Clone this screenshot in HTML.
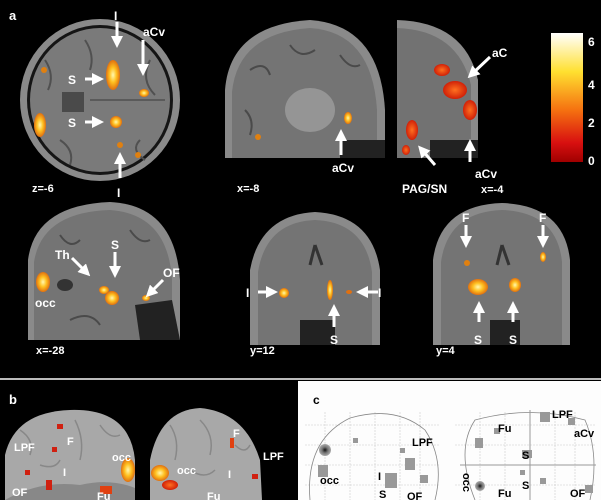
<!DOCTYPE html>
<html><head><meta charset="utf-8"><style>
html,body{margin:0;padding:0;background:#000;}
svg{display:block;}
text{font-family:"Liberation Sans",Arial,sans-serif;font-weight:bold;}
</style></head><body>
<svg width="601" height="500" viewBox="0 0 601 500" xmlns="http://www.w3.org/2000/svg">
<defs>
<linearGradient id="cb" x1="0" y1="0" x2="0" y2="1">
<stop offset="0" stop-color="#fff"/><stop offset="0.3" stop-color="#ffe030"/><stop offset="0.6" stop-color="#f57010"/><stop offset="0.85" stop-color="#d81010"/><stop offset="1" stop-color="#a00000"/>
</linearGradient>
<radialGradient id="hot"><stop offset="0" stop-color="#fff8b0"/><stop offset="0.5" stop-color="#ffc020"/><stop offset="1" stop-color="#e07010"/></radialGradient>
<radialGradient id="red"><stop offset="0" stop-color="#ff7020"/><stop offset="1" stop-color="#d02008"/></radialGradient>
<radialGradient id="gb"><stop offset="0" stop-color="#111"/><stop offset="0.5" stop-color="#777"/><stop offset="1" stop-color="#aaa"/></radialGradient>
<marker id="ah" markerWidth="4" markerHeight="4" refX="2" refY="2" orient="auto" markerUnits="strokeWidth"><path d="M0,0 L4,2 L0,4 z" fill="#fff"/></marker>
</defs>
<rect width="601" height="500" fill="#000"/>
<text x="9" y="20" fill="#fff" font-size="13">a</text>
<!-- axial -->
<ellipse cx="100" cy="100" rx="80" ry="81" fill="#8a8a8a"/>
<ellipse cx="100" cy="100" rx="73" ry="75" fill="#151515"/>
<ellipse cx="100" cy="100" rx="70" ry="72" fill="#7a7a7a"/>
<g stroke="#505050" stroke-width="2" fill="none">
<path d="M45,60 Q55,75 48,90"/><path d="M150,60 Q140,80 155,95"/><path d="M60,140 Q75,150 70,165"/><path d="M140,140 Q130,150 145,160"/>
<path d="M85,40 Q95,55 90,70"/><line x1="90" y1="100" x2="165" y2="100" stroke="#3a3a3a" stroke-width="1"/>
</g>
<rect x="62" y="92" width="22" height="20" fill="#4a4a4a"/>
<ellipse cx="113" cy="75" rx="7" ry="15" fill="url(#hot)"/>
<ellipse cx="116" cy="122" rx="6" ry="6" fill="url(#hot)"/>
<ellipse cx="144" cy="93" rx="5" ry="4" fill="url(#hot)"/>
<ellipse cx="40" cy="125" rx="6" ry="12" fill="url(#hot)"/>
<circle cx="44" cy="70" r="3" fill="#e08010"/><circle cx="120" cy="145" r="3" fill="#e08010"/><circle cx="138" cy="155" r="3" fill="#e08010"/>
<g stroke="#fff" stroke-width="3" marker-end="url(#ah)">
<line x1="117" y1="22" x2="117" y2="42"/><line x1="143" y1="40" x2="143" y2="70"/>
<line x1="85" y1="79" x2="98" y2="79"/><line x1="85" y1="122" x2="98" y2="122"/>
<line x1="120" y1="178" x2="120" y2="158"/>
</g>
<text x="114" y="20" fill="#fff" font-size="12">I</text>
<text x="143" y="36" fill="#fff" font-size="12">aCv</text>
<text x="68" y="84" fill="#fff" font-size="12">S</text>
<text x="68" y="127" fill="#fff" font-size="12">S</text>
<text x="117" y="197" fill="#fff" font-size="12">I</text>
<text x="32" y="192" fill="#fff" font-size="11">z=-6</text>
<!-- sagittal x=-8 -->
<path d="M225,158 L225,90 Q230,25 310,20 Q380,25 385,110 L385,158 Z" fill="#8a8a8a"/>
<path d="M232,158 L232,92 Q238,33 310,28 Q372,32 377,110 L377,158 Z" fill="#747474"/>
<g stroke="#4a4a4a" stroke-width="2" fill="none">
<path d="M250,70 Q265,60 270,75"/><path d="M290,45 Q300,60 315,50"/><path d="M340,55 Q350,70 360,65"/><path d="M245,110 Q255,120 250,135"/>
</g>
<ellipse cx="310" cy="110" rx="25" ry="22" fill="#959595"/>
<path d="M340,140 L385,140 L385,158 L340,158Z" fill="#222"/>
<ellipse cx="348" cy="118" rx="4" ry="6" fill="url(#hot)"/>
<circle cx="258" cy="137" r="3" fill="#e08010"/>
<line x1="341" y1="155" x2="341" y2="135" stroke="#fff" stroke-width="3" marker-end="url(#ah)"/>
<text x="332" y="172" fill="#fff" font-size="12">aCv</text>
<text x="237" y="192" fill="#fff" font-size="11">x=-8</text>
<!-- sagittal x=-4 -->
<path d="M397,158 L397,20 Q465,22 478,80 L478,158 Z" fill="#8a8a8a"/>
<path d="M397,158 L397,28 Q458,30 471,85 L471,158 Z" fill="#727272"/>
<path d="M430,140 L478,140 L478,158 L430,158Z" fill="#222"/>
<ellipse cx="455" cy="90" rx="12" ry="9" fill="url(#red)"/>
<ellipse cx="442" cy="70" rx="8" ry="6" fill="url(#red)"/>
<ellipse cx="470" cy="110" rx="7" ry="10" fill="url(#red)"/>
<ellipse cx="412" cy="130" rx="6" ry="10" fill="url(#red)"/>
<ellipse cx="406" cy="150" rx="4" ry="5" fill="url(#red)"/>
<g stroke="#fff" stroke-width="3" marker-end="url(#ah)">
<line x1="490" y1="57" x2="472" y2="74"/><line x1="435" y1="165" x2="422" y2="150"/><line x1="470" y1="162" x2="470" y2="145"/>
</g>
<text x="492" y="57" fill="#fff" font-size="12">aC</text>
<text x="475" y="178" fill="#fff" font-size="12">aCv</text>
<text x="402" y="193" fill="#fff" font-size="12">PAG/SN</text>
<text x="481" y="193" fill="#fff" font-size="11">x=-4</text>
<!-- colorbar -->
<rect x="551" y="33" width="32" height="129" fill="url(#cb)"/>
<text x="588" y="46" fill="#fff" font-size="12">6</text>
<text x="588" y="89" fill="#fff" font-size="12">4</text>
<text x="588" y="127" fill="#fff" font-size="12">2</text>
<text x="588" y="165" fill="#fff" font-size="12">0</text>
<!-- x=-28 -->
<path d="M28,340 L28,260 Q35,205 110,202 Q175,205 180,280 L180,340 Z" fill="#8a8a8a"/>
<path d="M34,340 L34,262 Q42,212 110,210 Q168,214 172,280 L172,340 Z" fill="#747474"/>
<g stroke="#4a4a4a" stroke-width="2" fill="none">
<path d="M60,235 Q70,250 80,240"/><path d="M130,230 Q140,245 150,240"/><path d="M70,320 Q90,310 100,325"/><ellipse cx="65" cy="285" rx="8" ry="6" fill="#333" stroke="none"/>
</g>
<path d="M135,305 L172,300 L180,340 L140,340Z" fill="#222"/>
<ellipse cx="43" cy="282" rx="7" ry="10" fill="url(#hot)"/>
<ellipse cx="112" cy="298" rx="7" ry="7" fill="url(#hot)"/>
<ellipse cx="104" cy="290" rx="5" ry="4" fill="url(#hot)"/>
<ellipse cx="146" cy="298" rx="4" ry="3" fill="url(#hot)"/>
<g stroke="#fff" stroke-width="3" marker-end="url(#ah)">
<line x1="72" y1="258" x2="86" y2="272"/><line x1="115" y1="252" x2="115" y2="272"/><line x1="163" y1="280" x2="150" y2="293"/>
</g>
<text x="55" y="259" fill="#fff" font-size="12">Th</text>
<text x="111" y="249" fill="#fff" font-size="12">S</text>
<text x="163" y="277" fill="#fff" font-size="12">OF</text>
<text x="35" y="307" fill="#fff" font-size="12">occ</text>
<text x="36" y="354" fill="#fff" font-size="11">x=-28</text>
<!-- y=12 -->
<path d="M250,345 L250,270 Q260,215 315,212 Q372,215 380,270 L380,345 Z" fill="#8a8a8a"/>
<path d="M258,345 L258,272 Q266,222 315,220 Q365,222 372,272 L372,345 Z" fill="#747474"/>
<path d="M315,245 L310,265 M315,245 L322,265" stroke="#333" stroke-width="3"/>
<rect x="300" y="320" width="35" height="25" fill="#222"/>
<ellipse cx="284" cy="293" rx="5" ry="5" fill="url(#hot)"/>
<ellipse cx="330" cy="290" rx="3" ry="10" fill="url(#hot)"/>
<ellipse cx="349" cy="292" rx="3" ry="2" fill="#e07010"/>
<g stroke="#fff" stroke-width="3" marker-end="url(#ah)">
<line x1="258" y1="292" x2="272" y2="292"/><line x1="378" y1="292" x2="362" y2="292"/><line x1="334" y1="327" x2="334" y2="310"/>
</g>
<text x="246" y="297" fill="#fff" font-size="12">I</text>
<text x="378" y="297" fill="#fff" font-size="12">I</text>
<text x="330" y="344" fill="#fff" font-size="12">S</text>
<text x="250" y="354" fill="#fff" font-size="11">y=12</text>
<!-- y=4 -->
<path d="M433,345 L433,260 Q440,205 502,203 Q564,205 570,260 L570,345 Z" fill="#8a8a8a"/>
<path d="M441,345 L441,262 Q448,212 502,210 Q557,212 562,262 L562,345 Z" fill="#747474"/>
<path d="M502,245 L497,265 M502,245 L509,265" stroke="#333" stroke-width="3"/>
<rect x="490" y="320" width="30" height="25" fill="#222"/>
<ellipse cx="478" cy="287" rx="10" ry="8" fill="url(#hot)"/>
<ellipse cx="515" cy="285" rx="6" ry="7" fill="url(#hot)"/>
<ellipse cx="467" cy="263" rx="3" ry="3" fill="#e08010"/>
<ellipse cx="543" cy="257" rx="3" ry="5" fill="url(#hot)"/>
<g stroke="#fff" stroke-width="3" marker-end="url(#ah)">
<line x1="466" y1="225" x2="466" y2="242"/><line x1="543" y1="225" x2="543" y2="242"/>
<line x1="479" y1="322" x2="479" y2="307"/><line x1="513" y1="322" x2="513" y2="307"/>
</g>
<text x="462" y="222" fill="#fff" font-size="12">F</text>
<text x="539" y="222" fill="#fff" font-size="12">F</text>
<text x="474" y="344" fill="#fff" font-size="12">S</text>
<text x="509" y="344" fill="#fff" font-size="12">S</text>
<text x="436" y="354" fill="#fff" font-size="11">y=4</text>
<!-- separators -->
<rect x="0" y="378" width="601" height="2" fill="#bbb"/>
<!-- panel b -->
<rect x="0" y="381" width="298" height="119" fill="#000"/>
<text x="9" y="404" fill="#fff" font-size="13">b</text>
<path d="M5,500 L5,455 Q15,412 70,410 Q130,408 135,460 L135,500 Z" fill="#a8a8a8"/>
<path d="M150,500 L150,460 Q160,410 200,408 Q245,412 260,460 L262,500 Z" fill="#a8a8a8"/>
<g stroke="#888" stroke-width="1.5" fill="none">
<path d="M20,430 Q35,440 30,455"/><path d="M75,420 Q85,440 80,460"/><path d="M100,425 Q110,440 120,435"/><path d="M40,465 Q55,470 60,460"/>
<path d="M170,425 Q180,440 175,460"/><path d="M200,420 Q215,435 210,455"/><path d="M235,445 Q245,455 250,445"/><path d="M190,470 Q205,480 215,470"/>
</g>
<path d="M5,500 Q40,480 80,485 Q110,478 135,488 L135,500Z" fill="#888"/>
<ellipse cx="128" cy="470" rx="7" ry="12" fill="url(#hot)"/>
<ellipse cx="160" cy="473" rx="9" ry="8" fill="url(#hot)"/>
<ellipse cx="170" cy="485" rx="8" ry="5" fill="url(#red)"/>
<rect x="57" y="424" width="6" height="5" fill="#d02010"/><rect x="52" y="447" width="5" height="5" fill="#d02010"/>
<rect x="46" y="480" width="6" height="10" fill="#d02010"/><rect x="25" y="470" width="5" height="5" fill="#d02010"/>
<rect x="100" y="486" width="12" height="8" fill="#e04010"/><rect x="230" y="438" width="4" height="10" fill="#e04010"/>
<rect x="252" y="474" width="6" height="5" fill="#d02010"/>
<g fill="#fff" font-size="11">
<text x="14" y="451">LPF</text><text x="67" y="445">F</text><text x="112" y="461">occ</text>
<text x="63" y="476">I</text><text x="12" y="496">OF</text><text x="97" y="500">Fu</text>
<text x="233" y="437">F</text><text x="177" y="474">occ</text><text x="228" y="478">I</text>
<text x="263" y="460">LPF</text><text x="207" y="500">Fu</text>
</g>
<!-- panel c -->
<rect x="298" y="381" width="303" height="119" fill="#fdfdfd"/>
<text x="313" y="404" fill="#000" font-size="12">c</text>
<g stroke="#ccc" stroke-width="0.6" stroke-dasharray="2,1">
<line x1="305" y1="425" x2="440" y2="425"/><line x1="305" y1="445" x2="440" y2="445"/><line x1="305" y1="465" x2="440" y2="465"/><line x1="305" y1="485" x2="440" y2="485"/>
<line x1="325" y1="412" x2="325" y2="500"/><line x1="350" y1="412" x2="350" y2="500"/><line x1="375" y1="412" x2="375" y2="500"/><line x1="400" y1="412" x2="400" y2="500"/><line x1="420" y1="412" x2="420" y2="500"/>
<line x1="455" y1="425" x2="595" y2="425"/><line x1="455" y1="445" x2="595" y2="445"/><line x1="455" y1="485" x2="595" y2="485"/>
<line x1="480" y1="412" x2="480" y2="500"/><line x1="505" y1="412" x2="505" y2="500"/><line x1="555" y1="412" x2="555" y2="500"/><line x1="575" y1="412" x2="575" y2="500"/>
</g>
<path d="M310,500 Q305,440 350,418 Q395,405 425,430 Q445,460 435,500" fill="none" stroke="#888" stroke-width="0.8"/>
<path d="M475,500 Q455,450 475,420 Q530,405 585,420 Q600,455 590,500" fill="none" stroke="#888" stroke-width="0.8"/>
<line x1="460" y1="465" x2="596" y2="465" stroke="#999" stroke-width="1"/>
<line x1="530" y1="410" x2="530" y2="500" stroke="#999" stroke-width="1"/>
<circle cx="325" cy="450" r="6" fill="url(#gb)"/><circle cx="480" cy="486" r="5" fill="url(#gb)"/>
<g fill="#999">
<rect x="405" y="458" width="10" height="12"/><rect x="385" y="473" width="12" height="15"/><rect x="420" y="475" width="8" height="8"/>
<rect x="353" y="438" width="5" height="5"/><rect x="400" y="448" width="5" height="5"/><rect x="318" y="465" width="10" height="12"/>
<rect x="540" y="412" width="10" height="10"/><rect x="522" y="450" width="10" height="8"/><rect x="475" y="438" width="8" height="10"/>
<rect x="494" y="428" width="6" height="6"/><rect x="568" y="418" width="7" height="7"/><rect x="585" y="485" width="8" height="8"/>
<rect x="540" y="478" width="6" height="6"/><rect x="520" y="470" width="5" height="5"/>
</g>
<g fill="#000" font-size="11">
<text x="412" y="446">LPF</text><text x="320" y="484">occ</text><text x="378" y="480">I</text>
<text x="379" y="498">S</text><text x="407" y="500">OF</text>
<text x="552" y="418">LPF</text><text x="498" y="432">Fu</text><text x="574" y="437">aCv</text>
<text x="522" y="459">S</text><text x="522" y="489">S</text><text x="498" y="497">Fu</text><text x="570" y="497">OF</text>
<text x="463" y="473" transform="rotate(90 463 473)">occ</text>
</g>
</svg>
</body></html>
